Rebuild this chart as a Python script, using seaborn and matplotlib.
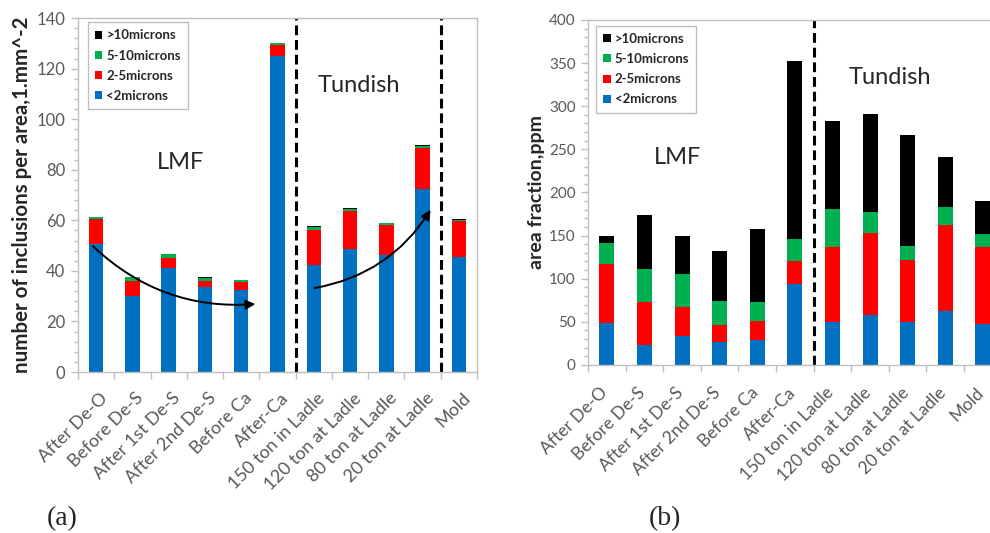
import numpy as np
import pandas as pd
import matplotlib
matplotlib.use("Agg")
import matplotlib.pyplot as plt
from matplotlib.patches import Patch
from matplotlib.ticker import MultipleLocator
from matplotlib.transforms import ScaledTranslation
import seaborn as sns

# Sampling stages
stages = ["After De-O", "Before De-S", "After 1st De-S", "After 2nd De-S",
          "Before Ca", "After-Ca", "150 ton in Ladle", "120 ton at Ladle",
          "80 ton at Ladle", "20 ton at Ladle", "Mold"]

size_classes = ["<2microns", "2-5microns", "5-10microns", ">10microns"]

# (a) number of inclusions per area, by size class
count_lt2 = [50.6, 30.2, 41.3, 33.6, 32.4, 125.2, 42.4, 48.8, 46.4, 72.4, 45.6]
count_2_5 = [9.9, 5.9, 4.0, 2.5, 3.1, 4.0, 13.6, 14.9, 11.6, 16.2, 14.2]
count_5_10 = [0.8, 1.5, 1.2, 1.1, 0.8, 0.8, 1.2, 0.9, 0.8, 0.9, 0.4]
count_gt10 = [0.1, 0.1, 0.3, 0.2, 0.2, 0.2, 0.6, 0.3, 0.3, 0.3, 0.3]

# (b) area fraction (ppm), by size class
area_lt2 = [48.3, 23.2, 34.0, 26.3, 29.0, 93.5, 50.2, 58.0, 50.2, 62.6, 47.9]
area_2_5 = [68.8, 49.5, 32.9, 20.1, 22.4, 27.1, 87.0, 95.0, 71.2, 99.7, 88.5]
area_5_10 = [24.0, 38.2, 38.2, 27.8, 21.3, 25.1, 43.7, 24.4, 16.6, 20.9, 15.1]
area_gt10 = [8.5, 63.0, 44.5, 58.0, 84.6, 207.2, 102.0, 113.2, 128.3, 58.0, 38.6]

colors = {"<2microns": "#0070C0", "2-5microns": "#FF0000",
          "5-10microns": "#00B050", ">10microns": "#000000"}

sns.set_style("white")
plt.rcParams["font.family"] = ["Lato", "DejaVu Sans"]

fig = plt.figure(figsize=(9.9, 5.33), dpi=100)
ax_a = fig.add_axes([0.0788, 0.302, 0.403, 0.664])
ax_b = fig.add_axes([0.594, 0.3152, 0.4178, 0.6473])

GRID = "#BFBFBF"
TICKC = "#595959"


def stacked(ax, layers):
    df = pd.DataFrame({"stage": stages})
    cum = np.zeros(len(stages))
    cums = []
    for name, vals in layers:
        cum = cum + np.asarray(vals)
        cums.append((name, cum.copy()))
    # draw tallest cumulative first so each lower segment sits on top of it
    for name, c in reversed(cums):
        df["v"] = c
        sns.barplot(data=df, x="stage", y="v", order=stages, color=colors[name],
                    saturation=1, width=0.4, linewidth=0, ax=ax, errorbar=None)


def style_axes(ax, ymax, major, minor, tick_size, xsize, xpad, xshift):
    ax.set_xlim(-0.5, len(stages) - 0.5)
    ax.set_ylim(0, ymax)
    ax.yaxis.set_major_locator(MultipleLocator(major))
    ax.yaxis.set_minor_locator(MultipleLocator(minor))
    ax.set_xticks(np.arange(-0.5, len(stages), 1.0), minor=True)
    ax.set_xticks(np.arange(len(stages)))
    ax.set_xticklabels(stages, rotation=45, ha="right", va="top",
                       rotation_mode="anchor", fontsize=xsize, color=TICKC)
    ax.tick_params(axis="x", which="major", length=0, pad=xpad)
    ax.tick_params(axis="x", which="minor", length=5, color=GRID, width=1,
                   bottom=True)
    ax.tick_params(axis="y", which="major", length=5, color=GRID, width=1,
                   labelsize=tick_size, labelcolor=TICKC, left=True, pad=4)
    ax.tick_params(axis="y", which="minor", length=3, color=GRID, width=1,
                   left=True)
    # nudge the slanted stage labels sideways (after the pad is applied)
    shift = ScaledTranslation(xshift / 100, 0, fig.dpi_scale_trans)
    for lab in ax.get_xticklabels():
        lab.set_transform(lab.get_transform() + shift)
    for s in ax.spines.values():
        s.set_color(GRID)
        s.set_linewidth(1)
    ax.set_xlabel("")
    ax.grid(False)


def legend(ax, anchor):
    handles = [Patch(facecolor=colors[n], edgecolor="none", label=n)
               for n in reversed(size_classes)]
    leg = ax.legend(handles=handles, loc="upper left", bbox_to_anchor=anchor,
                    frameon=True, fancybox=False, framealpha=1,
                    edgecolor=GRID, handlelength=0.55, handleheight=0.55,
                    handletextpad=0.3, labelspacing=0.62, borderpad=0.55,
                    borderaxespad=0.3, prop={"weight": "bold", "size": 9.5})
    leg.get_frame().set_linewidth(1)


dash = (0, (3.2, 1.6))

# (a)
stacked(ax_a, [("<2microns", count_lt2), ("2-5microns", count_2_5),
               ("5-10microns", count_5_10), (">10microns", count_gt10)])
style_axes(ax_a, 140, 20, 4, 12, 13, 13, 3)
ax_a.set_ylabel("number of inclusions per area,1.mm^-2", fontsize=14.8,
                fontweight="bold", labelpad=3)
for xb in (5.5, 9.5):
    ax_a.axvline(xb, color="black", lw=2.2, ls=dash)
ax_a.text(2.32, 83, "LMF", fontsize=17, ha="center", va="center")
ax_a.text(7.23, 113.5, "Tundish", fontsize=17, ha="center", va="center")
ax_a.annotate("", xy=(4.39, 26.9), xytext=(-0.09, 49.8),
              arrowprops=dict(arrowstyle="-|>", color="black", lw=1.4,
                              connectionstyle="arc3,rad=0.22",
                              shrinkA=0, shrinkB=0, mutation_scale=14))
ax_a.annotate("", xy=(9.22, 64.1), xytext=(6.02, 33.2),
              arrowprops=dict(arrowstyle="-|>", color="black", lw=1.4,
                              connectionstyle="arc3,rad=0.22",
                              shrinkA=0, shrinkB=0, mutation_scale=14))
legend(ax_a, (0.015, 1.0))

# (b)
stacked(ax_b, [("<2microns", area_lt2), ("2-5microns", area_2_5),
               ("5-10microns", area_5_10), (">10microns", area_gt10)])
style_axes(ax_b, 400, 50, 10, 11, 12.5, 14, -7)
ax_b.set_ylabel("area fraction,ppm", fontsize=14, fontweight="bold", labelpad=3)
ax_b.axvline(5.5, color="black", lw=2.2, ls=dash)
ax_b.text(1.87, 241, "LMF", fontsize=17, ha="center", va="center")
ax_b.text(7.53, 333, "Tundish", fontsize=17, ha="center", va="center")
legend(ax_b, (0.01, 0.995))

fig.text(0.063, 0.003, "(a)", fontsize=20, family="Liberation Serif",
         ha="center", va="bottom")
fig.text(0.672, 0.003, "(b)", fontsize=20, family="Liberation Serif",
         ha="center", va="bottom")

fig.savefig("out.png", dpi=100)
